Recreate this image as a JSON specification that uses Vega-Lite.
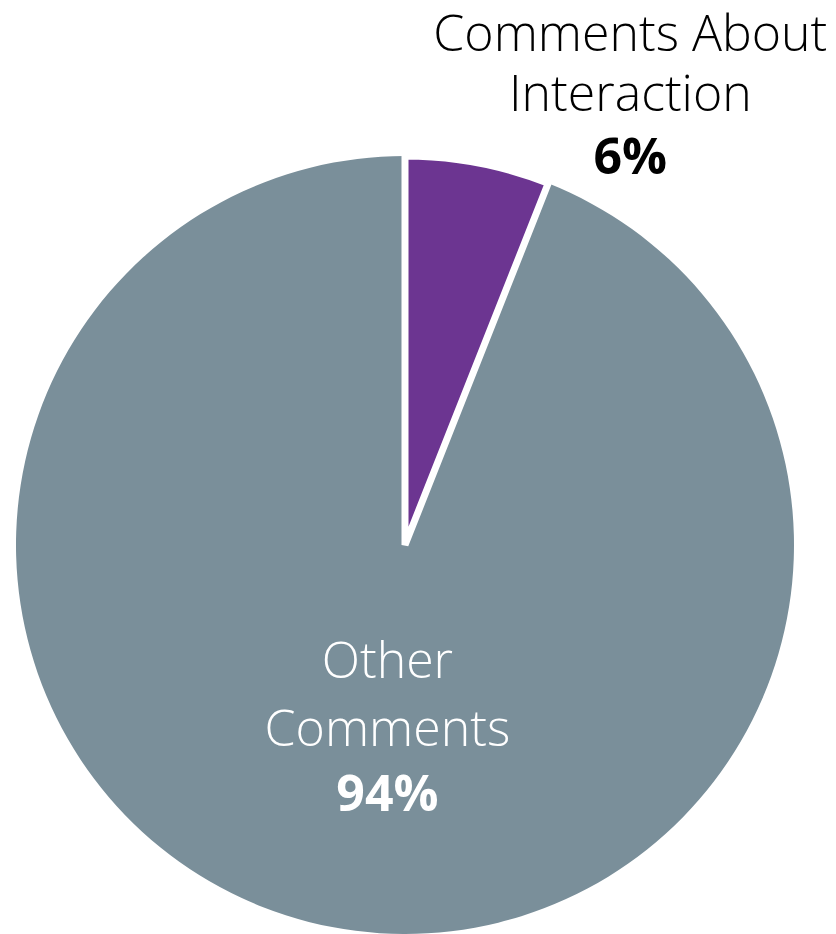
{
  "$schema": "https://vega.github.io/schema/vega-lite/v6.json",
  "width": 810,
  "height": 778,
  "autosize": {"type": "none"},
  "padding": {"left": 0, "top": 156, "right": 26, "bottom": 0},
  "background": "white",
  "config": {"view": {"stroke": null}},
  "data": {
    "values": [
      {"category": "Comments About Interaction", "value": 6, "name": "Comments About\nInteraction", "pct": "6%"},
      {"category": "Other Comments", "value": 94, "name": "Other\nComments", "pct": "94%"}
    ]
  },
  "encoding": {
    "theta": {"field": "value", "type": "quantitative", "stack": true},
    "order": {"field": "value", "type": "quantitative", "sort": "ascending"}
  },
  "layer": [
    {
      "mark": {"type": "arc", "fill": "#7a8f9a", "outerRadius": 389}
    },
    {
      "mark": {"type": "arc", "outerRadius": 389, "stroke": "white", "strokeJoin": "miter"},
      "encoding": {
        "fill": {"condition": {"test": "datum.category === 'Comments About Interaction'", "value": "#6c3591"}, "value": "transparent"},
        "strokeWidth": {"condition": {"test": "datum.category === 'Comments About Interaction'", "value": 7}, "value": 0}
      }
    },
    {
      "mark": {"type": "text", "radius": 450, "dx": 141, "dy": -67, "fontSize": 50, "font": "Open Sans", "fontWeight": 300, "fill": "black", "baseline": "middle", "lineBreak": "\n", "lineHeight": 60},
      "encoding": {"text": {"condition": {"test": "datum.category === 'Comments About Interaction'", "field": "name"}, "value": ""}}
    },
    {
      "mark": {"type": "text", "radius": 450, "dx": 141, "dy": 56, "fontSize": 50, "font": "Open Sans", "fontWeight": "bold", "fill": "black", "baseline": "middle"},
      "encoding": {"text": {"condition": {"test": "datum.category === 'Comments About Interaction'", "field": "pct"}, "value": ""}}
    },
    {
      "mark": {"type": "text", "radius": 190, "dx": 18, "dy": -69, "fontSize": 50, "font": "Open Sans", "fontWeight": 300, "fill": "white", "baseline": "middle", "lineBreak": "\n", "lineHeight": 68},
      "encoding": {"text": {"condition": {"test": "datum.category === 'Other Comments'", "field": "name"}, "value": ""}}
    },
    {
      "mark": {"type": "text", "radius": 190, "dx": 18, "dy": 64, "fontSize": 50, "font": "Open Sans", "fontWeight": "bold", "fill": "white", "baseline": "middle"},
      "encoding": {"text": {"condition": {"test": "datum.category === 'Other Comments'", "field": "pct"}, "value": ""}}
    }
  ]
}
